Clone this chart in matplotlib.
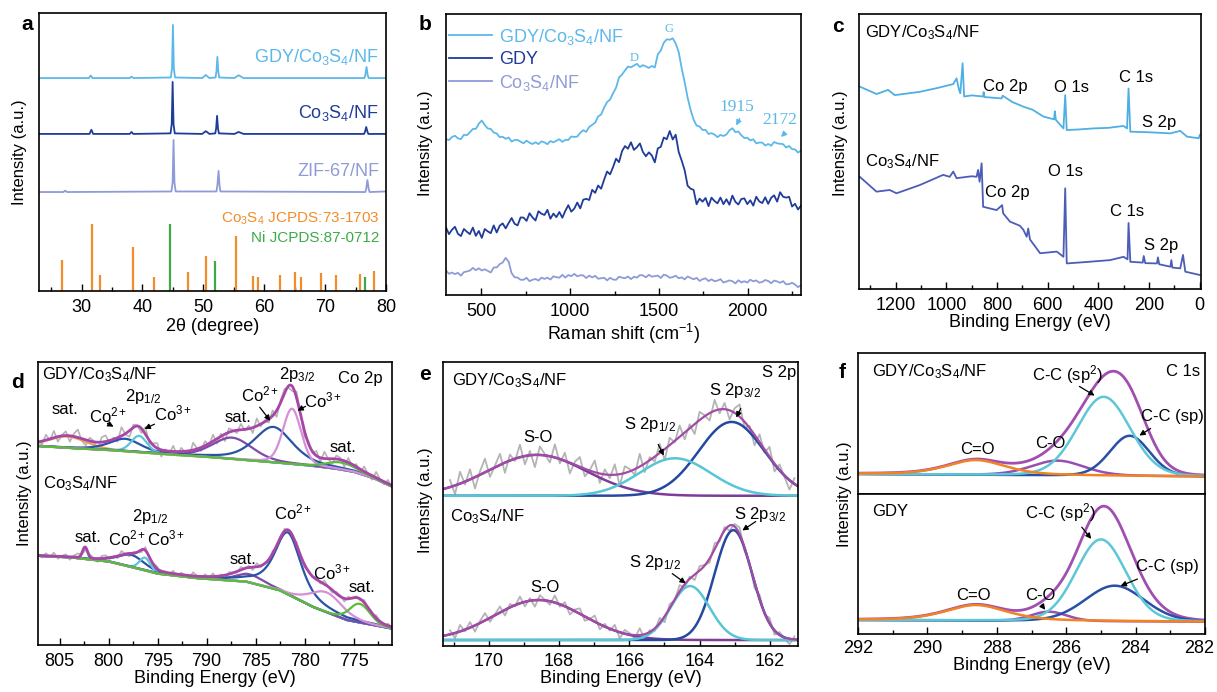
import numpy as np
import matplotlib
matplotlib.use('Agg')
import matplotlib.pyplot as plt
from matplotlib.patches import FancyArrowPatch
from matplotlib.ticker import MultipleLocator
from matplotlib.transforms import ScaledTranslation

W, H = 1217, 692

plt.rcParams['font.family'] = 'Liberation Sans'
plt.rcParams['mathtext.fontset'] = 'custom'
plt.rcParams['mathtext.rm'] = 'Liberation Sans'
plt.rcParams['mathtext.it'] = 'Liberation Sans:italic'
plt.rcParams['mathtext.bf'] = 'Liberation Sans:bold'
plt.rcParams['mathtext.default'] = 'regular'

# ---------------------------------------------------
# colours
# ---------------------------------------------------
LBLUE = '#5DB8EA'
DBLUE = '#1F3C99'
LAV = '#8E9BD8'
ORANGE = '#F28C28'
GREEN = '#3DAA47'
GRAY = '#B4B4B4'
ENV = '#A846A8'
VIOLET = '#7D4BAA'
PINK = '#D58FD8'
FBLUE = '#2854A8'
CYAN = '#5CC5DA'
FGREEN = '#5DBB3A'
TAN = '#E8A456'

# ---------------------------------------------------
# (a) XRD
# ---------------------------------------------------
XRD_GDY_X = [23, 31.2, 31.5, 31.8, 37.9, 38.2, 38.5, 44.65, 44.85, 45.0, 45.15, 45.35, 49.8, 50.4, 51.0,
             52.0, 52.15, 52.3, 52.45, 52.6, 55.1, 55.8, 56.6, 76.45, 76.6, 76.8, 77.0, 77.15, 80]
XRD_GDY_Y = [76.6, 76.6, 77.5, 76.6, 76.6, 77.1, 76.6, 76.8, 80.0, 95.7, 80.0, 76.8, 76.6, 77.7, 76.6,
             76.8, 79.0, 84.2, 79.0, 76.8, 76.6, 77.6, 76.6, 76.6, 77.6, 80.6, 77.6, 76.6, 76.6]
XRD_CO_X = [23, 31.3, 31.6, 31.9, 37.9, 38.2, 38.5, 44.6, 44.8, 44.95, 45.1, 45.3, 49.8, 50.4, 51.0,
            51.95, 52.1, 52.25, 52.4, 52.55, 55.1, 55.8, 56.6, 76.4, 76.55, 76.75, 76.95, 77.1, 80]
XRD_CO_Y = [56.5, 56.5, 58.0, 56.5, 56.5, 57.2, 56.5, 56.7, 60.0, 75.2, 60.0, 56.7, 56.5, 57.5, 56.5,
            56.7, 58.5, 63.0, 58.5, 56.7, 56.5, 57.2, 56.5, 56.5, 57.3, 59.0, 57.3, 56.5, 56.5]
XRD_ZIF_X = [23, 27.0, 27.3, 27.6, 44.75, 44.95, 45.1, 45.25, 45.45, 52.15, 52.3, 52.5, 52.65, 52.8,
             76.6, 76.75, 76.95, 77.15, 77.3, 80]
XRD_ZIF_Y = [35.6, 35.6, 36.1, 35.6, 35.8, 39.0, 54.3, 39.0, 35.8, 35.8, 38.0, 43.2, 38.0, 35.8,
             35.6, 36.8, 39.9, 36.8, 35.6, 35.8]
PDF_CO3S4_POS = [26.8, 31.65, 33.0, 38.4, 41.9, 47.4, 50.5, 55.3, 58.1, 59.0, 62.6, 65.0, 66.0, 69.3, 71.8,
                 75.7, 78.1]
PDF_CO3S4_H = [11.2, 24.1, 5.8, 15.8, 5.0, 6.8, 12.6, 19.8, 5.4, 5.0, 5.8, 6.8, 5.0, 6.6, 5.8, 6.0, 7.2]
PDF_NI_POS = [44.6, 51.9, 76.5]
PDF_NI_H = [24.1, 10.8, 5.0]

# ---------------------------------------------------
# (b) Raman: smooth trace read from the picture + read-off scatter around it
# ---------------------------------------------------
RAMAN_GC_X = [300, 340, 379, 440, 500, 540, 585, 680, 791, 880, 979, 1040, 1091, 1140, 1185, 1240, 1279,
              1320, 1354, 1400, 1429, 1475, 1494, 1520, 1550, 1575, 1597, 1620, 1644, 1691, 1740, 1785,
              1850, 1890, 1916, 1960, 2010, 2104, 2169, 2230, 2291]
RAMAN_GC_Y = [55.2, 56.2, 55.7, 58.0, 61.7, 59.5, 56.9, 55.0, 54.0, 54.3, 55.2, 56.8, 58.7, 61.5, 65.8,
              71.5, 77.7, 80.5, 81.9, 81.6, 81.3, 80.7, 85.4, 89.0, 91.4, 91.0, 89.5, 84.0, 75.3, 62.3,
              59.0, 57.5, 56.3, 57.8, 59.3, 57.0, 55.2, 53.4, 54.2, 52.5, 51.0]
RAMAN_GDY_X = [300, 360, 420, 510, 580, 660, 760, 847, 922, 980, 1035, 1100, 1166, 1205, 1241, 1280, 1316,
               1350, 1391, 1430, 1475, 1500, 1522, 1560, 1597, 1625, 1654, 1710, 1822, 1920, 2010, 2104,
               2197, 2240, 2291]
RAMAN_GDY_Y = [23.1, 22.6, 22.3, 22.0, 23.5, 25.5, 27.5, 29.1, 27.9, 29.8, 31.4, 34.5, 38.5, 42.0, 45.6,
               49.5, 52.8, 53.0, 52.2, 50.5, 48.6, 52.0, 54.0, 58.1, 55.2, 48.0, 40.9, 33.8, 33.2, 33.5,
               33.2, 33.6, 35.6, 33.0, 30.8]
RAMAN_CO_X = [300, 379, 430, 472, 547, 600, 641, 665, 688, 791, 900, 1035, 1130, 1222, 1330, 1429, 1550,
              1729, 1916, 2050, 2179, 2291]
RAMAN_CO_Y = [8.3, 7.1, 8.8, 9.5, 8.3, 10.5, 13.6, 9.0, 5.9, 5.3, 6.2, 7.1, 6.3, 5.6, 6.2, 6.8, 6.6, 5.6,
              4.7, 4.9, 4.7, 3.2]
RAMAN_NOISE_A = [0.9, -1.3, 0.4, 1.6, -0.8, -1.5, 1.1, 0.2, -0.6, 1.8, -1.1, 0.7, -1.7, 1.3, 0.1, -0.9, 1.5,
                 -1.4, 0.6, 1.0, -1.2, 0.3, 1.7, -0.7, -1.6, 0.9, 0.5, -1.0, 1.4, -0.4, -1.8, 1.2, 0.0, -0.5,
                 1.6, -1.3, 0.8, -0.2, 1.1, -1.5, 0.4, 1.9, -0.9, -0.3, 1.3, -1.6, 0.7, 0.2, -1.1, 1.5, -0.6,
                 1.0, -1.4, 0.3, 1.7, -1.0, -0.1, 1.2, -1.7, 0.6, 0.9, -0.8, 1.4, -1.2, 0.1, 1.8, -0.5, -1.3,
                 0.8, 0.4, -1.6, 1.1, -0.2, 1.5, -0.9, 0.3, -1.4, 1.6, -0.7, 0.5, 1.2, -1.1, 0.0, 1.7, -1.5,
                 0.6, -0.4, 1.0, -1.8, 1.3, 0.2, -0.6, 1.4, -1.0, 0.7, -1.3, 1.9, -0.3, -1.2, 0.8, 1.1, -0.9,
                 0.5, -1.5, 1.6, -0.1, -0.8, 1.2, -1.4, 0.4, 0.9, -1.7, 1.3, -0.5, 0.2, 1.5, -1.1, 0.6, -0.7,
                 1.0]
RAMAN_NOISE_B = [0.3, -0.5, 0.2, 0.6, -0.1, -0.4, 0.5, -0.3, 0.1, 0.4, -0.6, 0.2, 0.5, -0.2, -0.5, 0.3, 0.0,
                 0.6, -0.4, 0.1, -0.3, 0.5, -0.6, 0.2, 0.4, -0.1, -0.5, 0.6, 0.0, -0.3, 0.3, -0.4, 0.5, 0.1,
                 -0.6, 0.4, -0.2, 0.2, 0.6, -0.5, 0.1, -0.3, 0.5, -0.1, -0.4, 0.3, 0.6, -0.6, 0.2, 0.0, -0.2,
                 0.4, -0.5, 0.3, 0.5, -0.3, 0.1, -0.6, 0.4, -0.1, 0.2, 0.6, -0.4, -0.2, 0.5, -0.5, 0.3, 0.0,
                 -0.3, 0.6, -0.1, 0.4, -0.6, 0.2, 0.1, -0.4, 0.5, -0.2, 0.3, -0.5, 0.6, -0.3, 0.0, 0.4, -0.6,
                 0.2, -0.1, 0.5, -0.4, 0.3, 0.1, -0.5, 0.6, -0.2, -0.3, 0.4, 0.2, -0.6, 0.5, 0.0, -0.4, 0.3,
                 -0.1, 0.6, -0.5, 0.1, 0.4, -0.3, 0.2, -0.6, 0.5, -0.2, 0.0, 0.3, -0.4, 0.6, -0.1, 0.2, -0.5,
                 0.4]

# ---------------------------------------------------
# (c) XPS survey
# ---------------------------------------------------
SURV_GC_X = [1342, 1276, 1230, 1204, 1105, 1040, 973, 960, 950, 945, 936, 930, 900, 855, 853, 850, 782, 778,
             740, 696, 660, 617, 575, 572, 568, 538, 531, 525, 480, 419, 360, 301, 287, 281, 274, 200, 116,
             77, 50, 4, 0]
SURV_GC_Y = [73.6, 70.9, 72.4, 70.5, 71.7, 73.0, 74.5, 76.6, 72.4, 71.2, 82.1, 70.0, 70.4, 70.0, 71.6, 69.8,
             69.3, 70.3, 68.0, 66.3, 65.2, 62.7, 61.7, 64.6, 61.5, 58.4, 70.5, 57.8, 58.0, 58.4, 58.6, 59.3,
             58.4, 72.9, 57.2, 57.0, 56.6, 57.5, 55.4, 54.8, 56.0]
SURV_CO_X = [1342, 1276, 1224, 1197, 1105, 1013, 987, 973, 960, 900, 881, 875, 869, 861, 855, 802, 780, 776,
             749, 710, 696, 683, 677, 670, 630, 564, 538, 531, 525, 450, 354, 301, 285, 281, 274, 225, 221,
             215, 169, 165, 160, 116, 112, 108, 77, 66, 57, 0]
SURV_CO_Y = [40.8, 35.4, 36.0, 34.8, 37.8, 41.5, 40.8, 42.7, 40.3, 41.0, 40.8, 43.3, 39.0, 45.7, 29.9, 28.7,
             30.5, 27.5, 24.5, 23.0, 21.5, 19.0, 22.0, 18.0, 13.0, 13.6, 11.7, 36.6, 9.3, 9.8, 10.5, 11.7,
             10.8, 24.0, 9.9, 9.6, 12.0, 9.4, 9.3, 11.5, 9.0, 8.1, 10.5, 7.8, 7.5, 12.4, 6.3, 5.1]

# ---------------------------------------------------
# (d) Co 2p fits: background points + peaks (centre, height, fwhm, lorentz fraction)
# ---------------------------------------------------
D_TOP_BG_X = [807.2, 804, 800, 795, 790, 785, 780, 777, 775, 773, 771.1]
D_TOP_BG_Y = [70.3, 69.6, 68.9, 67.6, 66.5, 65.1, 63.6, 62.4, 61.2, 59.0, 56.0]
D_TOP_CENTER = [804.2, 798.3, 796.9, 787.4, 783.2, 781.3, 776.3]
D_TOP_HEIGHT = [4.0, 4.4, 5.8, 7.5, 12.5, 19.5, 2.5]
D_TOP_FWHM = [4.5, 3.8, 1.9, 4.8, 4.6, 2.2, 3.5]
D_TOP_ETA = [0.2, 0.5, 0.2, 0.3, 0.5, 0.2, 0.1]
D_TOP_NOISE = [0.8, -1.2, 1.9, -0.5, 2.4, -1.8, 0.3, 1.5, -2.1, 0.9, 2.8, -0.7, -1.9, 1.2, 0.4, -2.6, 1.7, 2.2,
               -0.9, 0.6, -1.4, 3.1, -0.3, -2.2, 1.0, 0.2, -1.6, 2.5, -1.1, 0.7, 1.8, -2.4, 0.5, -0.8, 2.0,
               -1.5, 1.3, -0.2, -2.0, 2.6, 0.1, -1.3, 1.6, -0.6, 2.3, -1.7, 0.9, -2.5, 1.4, 0.3, -1.0, 2.1,
               -0.4, 1.1, -1.9, 2.7, -0.9, 0.6, -1.2, 1.9, -2.3, 0.8, 1.5, -0.7, -1.6, 2.2, 0.4, -2.0, 1.0,
               -0.5, 1.7, -1.4, 2.4, -0.1, -1.8, 1.2, 0.7, -2.2, 1.6, -0.6, 0.9, -1.1, 1.8, -0.3, -1.5, 2.0,
               0.2, -0.9, 1.3, -0.8]
D_BOT_BG_X = [807.2, 804, 800, 797, 795, 791, 786, 782.6, 779.2, 775.7, 771.1]
D_BOT_BG_Y = [31.5, 31.0, 29.5, 27.0, 25.2, 23.6, 22.4, 19.4, 13.5, 8.8, 5.8]
D_BOT_CENTER = [802.4, 797.7, 796.3, 785.6, 781.7, 777.8, 774.4]
D_BOT_HEIGHT = [3.9, 4.3, 4.5, 2.9, 21.9, 7.0, 6.6]
D_BOT_FWHM = [0.6, 3.2, 1.3, 3.5, 3.2, 4.0, 2.5]
D_BOT_ETA = [0.0, 0.5, 0.2, 0.3, 0.7, 0.2, 0.1]
D_BOT_NOISE = [0.4, -0.7, 0.9, -0.3, 1.2, -0.9, 0.2, 0.8, -1.1, 0.5, 1.3, -0.4, -0.9, 0.6, 0.2, -1.2, 0.9, 1.0,
               -0.5, 0.3, -0.7, 1.4, -0.2, -1.0, 0.5, 0.1, -0.8, 1.2, -0.6, 0.4, 0.9, -1.1, 0.3, -0.4, 1.0,
               -0.8, 0.7, -0.1, -1.0, 1.3, 0.1, -0.7, 0.8, -0.3, 1.1, -0.9, 0.5, -1.2, 0.7, 0.2, -0.5, 1.0,
               -0.2, 0.6, -1.0, 1.3, -0.5, 0.3, -0.6, 1.0, -1.1, 0.4, 0.8, -0.4, -0.8, 1.1, 0.2, -1.0, 0.5,
               -0.3, 0.9, -0.7, 1.2, -0.1, -0.9, 0.6, 0.4, -1.1, 0.8, -0.3, 0.5, -0.6, 0.9, -0.2, -0.8, 1.0,
               0.1, -0.5, 0.7, -0.4]

# ---------------------------------------------------
# (e) S 2p fits
# ---------------------------------------------------
E_TOP_BASE = 52.9
E_TOP_CENTER = [168.63, 164.7, 163.09]
E_TOP_HEIGHT = [14.4, 13.2, 26.0]
E_TOP_FWHM = [3.3, 2.4, 2.2]
E_TOP_NOISE = [2.5, -3.1, 4.2, -1.0, 3.6, -4.0, 1.2, 4.8, -2.5, 0.6, 3.9, -3.6, 2.1, -0.8, 4.4, -2.9, 1.5,
               -4.3, 3.0, 0.4, -2.2, 4.6, -1.6, 2.8, -3.8, 1.0, 3.4, -2.7, 0.2, 4.1, -3.3, 1.8, -1.2, 3.7,
               -4.1, 2.4, 0.8, -2.0, 4.5, -3.0, 1.1, -1.7, 3.2, -3.9, 2.6, -0.5, 4.0, -2.4, 1.4, -3.5, 2.9,
               0.3, -2.6, 3.8, -1.4, 2.2, -3.2, 1.6, 4.3, -2.1, 0.7, -3.7, 2.7, -1.1, 3.5, -2.8, 1.9, -0.6,
               -3.4, 2.0]
E_BOT_BASE = 2.1
E_BOT_CENTER = [168.58, 164.27, 163.04]
E_BOT_HEIGHT = [14.1, 19.0, 38.7]
E_BOT_FWHM = [3.0, 1.3, 1.25]
E_BOT_NOISE = [1.4, -1.8, 2.3, -0.6, 2.0, -2.2, 0.7, 2.6, -1.4, 0.3, 2.1, -2.0, 1.2, -0.4, 2.4, -1.6, 0.9,
               -2.3, 1.7, 0.2, -1.2, 2.5, -0.9, 1.5, -2.1, 0.6, 1.9, -1.5, 0.1, 2.2, -1.8, 1.0, -0.7, 2.0,
               -2.2, 1.3, 0.4, -1.1, 2.4, -1.7, 0.6, -0.9, 1.8, -2.1, 1.4, -0.3, 2.2, -1.3, 0.8, -1.9, 1.6,
               0.2, -1.4, 2.1, -0.8, 1.2, -1.8, 0.9, 2.3, -1.2, 0.4, -2.0, 1.5, -0.6, 1.9, -1.5, 1.0, -0.3,
               -1.9, 1.1]

# ---------------------------------------------------
# (f) C 1s fits
# ---------------------------------------------------
F_TOP_BG_X = [292, 282]
F_TOP_BG_Y = [14.2, 12.4]
F_TOP_CENTER = [288.6, 286.25, 284.92, 284.17]
F_TOP_HEIGHT = [10.5, 10.5, 56.0, 28.5]
F_TOP_FWHM = [2.0, 1.8, 1.8, 1.35]
F_TOP_ETA = [0.5, 0.2, 0.1, 0.1]
F_BOT_BG_X = [292, 282]
F_BOT_BG_Y = [10.0, 8.8]
F_BOT_CENTER = [288.6, 286.5, 285.0, 284.6]
F_BOT_HEIGHT = [11.1, 6.6, 58.4, 25.4]
F_BOT_FWHM = [2.1, 1.2, 1.7, 2.0]
F_BOT_ETA = [0.5, 0.1, 0.1, 0.1]


def peak(x, c, h, w, eta=0.0):
    u = (x - c) / w
    return h * (eta / (1 + 4 * u ** 2) + (1 - eta) * np.exp(-4 * np.log(2) * u ** 2))


def box(x0, y0, x1, y1):
    return [x0 / W, 1 - y1 / H, (x1 - x0) / W, (y1 - y0) / H]


def style(ax, major, minor, labels=True):
    ax.set_yticks([])
    ax.xaxis.set_major_locator(MultipleLocator(major))
    ax.xaxis.set_minor_locator(MultipleLocator(minor))
    ax.tick_params(axis='x', which='major', direction='in', length=5, width=1, labelsize=13, pad=6,
                   labelbottom=labels)
    ax.tick_params(axis='x', which='minor', direction='in', length=3, width=1)
    for s in ax.spines.values():
        s.set_linewidth(1.2)


fig = plt.figure(figsize=(W / 100, H / 100), dpi=100)


def ftext(px, py, s, **kw):
    kw.setdefault('ha', 'center')
    kw.setdefault('va', 'center')
    kw.setdefault('fontsize', 12)
    fig.text(px / W, 1 - py / H, s, **kw)


def farrow(x1, y1, x2, y2, color='k'):
    fig.add_artist(FancyArrowPatch((x1 / W, 1 - y1 / H), (x2 / W, 1 - y2 / H), transform=fig.transFigure,
                                   arrowstyle='-|>', mutation_scale=8, lw=0.9, color=color))


# ---------------- a ----------------
ax = fig.add_axes(box(39, 13, 386, 291))
ax.plot(XRD_GDY_X, XRD_GDY_Y, color=LBLUE, lw=1.3)
ax.plot(XRD_CO_X, XRD_CO_Y, color=DBLUE, lw=1.3)
ax.plot(XRD_ZIF_X, XRD_ZIF_Y, color=LAV, lw=1.3)
ax.vlines(PDF_CO3S4_POS, 0, PDF_CO3S4_H, color=ORANGE, lw=1.6)
ax.vlines(PDF_NI_POS, 0, PDF_NI_H, color=GREEN, lw=1.6)
ax.set_xlim(23, 80)
ax.set_ylim(0, 100)
style(ax, 10, 5)
ax.set_xlabel('2θ (degree)', fontsize=13, labelpad=1)
ftext(379, 57, 'GDY/Co$_3$S$_4$/NF', ha='right', color=LBLUE, fontsize=13)
ftext(379, 113, 'Co$_3$S$_4$/NF', ha='right', color=DBLUE, fontsize=13)
ftext(379, 172, 'ZIF-67/NF', ha='right', color=LAV, fontsize=13)
ftext(379, 219, 'Co$_3$S$_4$ JCPDS:73-1703', ha='right', color=ORANGE, fontsize=11)
ftext(379, 238, 'Ni JCPDS:87-0712', ha='right', color=GREEN, fontsize=11)
ftext(20, 152, 'Intensity (a.u.)', rotation=90)
ftext(27, 25, 'a', fontsize=15, weight='bold')

# ---------------- b ----------------
ax = fig.add_axes(box(446, 14, 801, 295))
xr = np.linspace(300, 2300, len(RAMAN_NOISE_A))
gc = np.interp(xr, RAMAN_GC_X, RAMAN_GC_Y) + np.array(RAMAN_NOISE_B)
gdy = np.interp(xr, RAMAN_GDY_X, RAMAN_GDY_Y) + np.array(RAMAN_NOISE_A)
co = np.interp(xr, RAMAN_CO_X, RAMAN_CO_Y) + np.array(RAMAN_NOISE_B[::-1])
ax.plot(xr, gc, color=LBLUE, lw=1.3, label='GDY/Co$_3$S$_4$/NF')
ax.plot(xr, gdy, color=DBLUE, lw=1.3, label='GDY')
ax.plot(xr, co, color=LAV, lw=1.3, label='Co$_3$S$_4$/NF')
ax.set_xlim(300, 2300)
ax.set_ylim(0, 100)
style(ax, 500, 250)
ax.set_xlabel('Raman shift (cm$^{-1}$)', fontsize=13, labelpad=1)
ax.legend(loc='upper left', bbox_to_anchor=(-0.028, 1.0), frameon=False, fontsize=13, handlelength=2.4,
          handletextpad=0.4, labelspacing=0.25, labelcolor='linecolor', borderaxespad=0.3)
ftext(634, 58, 'D', color=LBLUE, fontsize=9, family='Liberation Serif')
ftext(669, 29, 'G', color=LBLUE, fontsize=9, family='Liberation Serif')
ftext(737, 107, '1915', color=LBLUE, fontsize=12.5, family='Liberation Serif')
ftext(780, 120, '2172', color=LBLUE, fontsize=12.5, family='Liberation Serif')
farrow(741, 116, 735, 128, LBLUE)
farrow(787, 131, 779, 139, LBLUE)
ftext(425, 143, 'Intensity (a.u.)', rotation=90)
ftext(425, 25, 'b', fontsize=15, weight='bold')

# ---------------- c ----------------
ax = fig.add_axes(box(859, 14, 1201, 289))
ax.plot(SURV_GC_X, SURV_GC_Y, color='#4FAFE3', lw=1.3)
ax.plot(SURV_CO_X, SURV_CO_Y, color='#4C5DB8', lw=1.3)
ax.set_xlim(1345, -5)
ax.set_ylim(0, 100)
style(ax, 200, 100)
ax.set_xlabel('Binding Energy (eV)', fontsize=13, labelpad=0)
ftext(865, 33, 'GDY/Co$_3$S$_4$/NF', ha='left')
ftext(1005, 87, 'Co 2p')
ftext(1072, 87, 'O 1s')
ftext(1136, 77, 'C 1s')
ftext(1159, 122, 'S 2p')
ftext(865, 162, 'Co$_3$S$_4$/NF', ha='left')
ftext(1066, 172, 'O 1s')
ftext(1007, 193, 'Co 2p')
ftext(1127, 212, 'C 1s')
ftext(1161, 245, 'S 2p')
ftext(840, 143, 'Intensity (a.u.)', rotation=90)
ftext(838, 27, 'c', fontsize=15, weight='bold')

# ---------------- d ----------------
ax = fig.add_axes(box(38, 362, 392, 645))
xs = np.linspace(807.2, 771.1, 600)
top_colors = [TAN, FBLUE, CYAN, VIOLET, FBLUE, PINK, FGREEN]
bot_colors = [CYAN, FBLUE, CYAN, VIOLET, FBLUE, PINK, FGREEN]
for bgx, bgy, cen, hei, fw, eta, noise, cols in [
        (D_TOP_BG_X, D_TOP_BG_Y, D_TOP_CENTER, D_TOP_HEIGHT, D_TOP_FWHM, D_TOP_ETA, D_TOP_NOISE, top_colors),
        (D_BOT_BG_X, D_BOT_BG_Y, D_BOT_CENTER, D_BOT_HEIGHT, D_BOT_FWHM, D_BOT_ETA, D_BOT_NOISE, bot_colors)]:
    bg = np.interp(xs, bgx[::-1], bgy[::-1])
    comps = [peak(xs, c, h, w, e) for c, h, w, e in zip(cen, hei, fw, eta)]
    env = bg + sum(comps)
    xn = np.linspace(807.2, 771.1, len(noise))
    raw = np.interp(xn, xs[::-1], env[::-1]) + np.array(noise)
    ax.plot(xn, raw, color=GRAY, lw=1.2)
    ax.plot(xs, bg, color=TAN, lw=1.6)
    for comp, col in zip(comps, cols):
        ax.plot(xs, bg + comp, color=col, lw=1.6)
    ax.plot(xs, env, color=ENV, lw=2.0)
ax.set_xlim(807.2, 771.1)
ax.set_ylim(0, 100)
style(ax, 5, 2.5)
ax.set_xlabel('Binding Energy (eV)', fontsize=13, labelpad=0)
ftext(42, 375, 'GDY/Co$_3$S$_4$/NF', ha='left')
ftext(297, 374, '2p$_{3/2}$')
ftext(360, 378, 'Co 2p')
ftext(260, 394, 'Co$^{2+}$')
ftext(323, 400, 'Co$^{3+}$')
ftext(238, 417, 'sat.')
ftext(343, 448, 'sat.')
ftext(65, 410, 'sat.')
ftext(108, 415, 'Co$^{2+}$')
ftext(143, 396, '2p$_{1/2}$')
ftext(173, 413, 'Co$^{3+}$')
farrow(105, 422, 116, 428)
farrow(157, 423, 142, 430)
farrow(258, 405, 272, 423)
farrow(308, 405, 295, 412)
ftext(43, 484, 'Co$_3$S$_4$/NF', ha='left')
ftext(150, 517, '2p$_{1/2}$')
ftext(88, 537, 'sat.')
ftext(147, 538, 'Co$^{2+}$Co$^{3+}$')
ftext(293, 512, 'Co$^{2+}$')
ftext(243, 560, 'sat.')
ftext(332, 572, 'Co$^{3+}$')
ftext(362, 587, 'sat.')
ftext(25, 493, 'Intensity (a.u.)', rotation=90)
ftext(18, 383, 'd', fontsize=15, weight='bold')

# ---------------- e ----------------
ax = fig.add_axes(box(443, 362, 798, 646))
xs = np.linspace(171.3, 161.2, 500)
for base, cen, hei, fw, noise in [(E_TOP_BASE, E_TOP_CENTER, E_TOP_HEIGHT, E_TOP_FWHM, E_TOP_NOISE),
                                  (E_BOT_BASE, E_BOT_CENTER, E_BOT_HEIGHT, E_BOT_FWHM, E_BOT_NOISE)]:
    comps = [peak(xs, c, h, w) for c, h, w in zip(cen, hei, fw)]
    env = base + sum(comps)
    xn = np.linspace(171.1, 161.3, len(noise))
    raw = np.interp(xn, xs[::-1], env[::-1]) + np.array(noise)
    ax.plot(xn, raw, color=GRAY, lw=1.3)
    ax.plot(xs, base + comps[0], color='#7D3C98', lw=1.8)
    ax.plot(xs, base + comps[2], color='#2548A0', lw=1.8)
    ax.plot(xs, base + comps[1], color='#56C6D6', lw=1.8)
    ax.plot(xs, env, color='#A24BA6', lw=1.6)
ax.set_xlim(171.3, 161.2)
ax.set_ylim(0, 100)
style(ax, 2, 1)
ax.tick_params(axis='x', which='major', pad=5)
ax.set_xlabel('Binding Energy (eV)', fontsize=13, labelpad=0)
ftext(452, 381, 'GDY/Co$_3$S$_4$/NF', ha='left')
ftext(796, 373, 'S 2p', ha='right')
ftext(735, 390, 'S 2p$_{3/2}$')
ftext(650, 425, 'S 2p$_{1/2}$')
ftext(538, 438, 'S-O')
ftext(450, 517, 'Co$_3$S$_4$/NF', ha='left')
ftext(760, 515, 'S 2p$_{3/2}$')
ftext(655, 562, 'S 2p$_{1/2}$')
ftext(545, 588, 'S-O')
farrow(742, 406, 735, 420)
farrow(657, 442, 665, 458)
farrow(758, 520, 740, 532)
farrow(670, 572, 688, 585)
ftext(425, 500, 'Intensity (a.u.)', rotation=90)
ftext(425, 375, 'e', fontsize=15, weight='bold')

# ---------------- f ----------------
fcols = ['#F28324', '#9750B0', '#5CC8D6', '#2A4FA6']
xs = np.linspace(292, 282, 500)
axt = fig.add_axes(box(858, 353, 1205, 494))
axb = fig.add_axes(box(858, 494, 1205, 634))
for axx, bgx, bgy, cen, hei, fw, eta in [(axt, F_TOP_BG_X, F_TOP_BG_Y, F_TOP_CENTER, F_TOP_HEIGHT, F_TOP_FWHM, F_TOP_ETA),
                                         (axb, F_BOT_BG_X, F_BOT_BG_Y, F_BOT_CENTER, F_BOT_HEIGHT, F_BOT_FWHM, F_BOT_ETA)]:
    bg = np.interp(xs, bgx[::-1], bgy[::-1])
    comps = [peak(xs, c, h, w, e) for c, h, w, e in zip(cen, hei, fw, eta)]
    env = bg + sum(comps)
    axx.plot(xs, env, color='#A04FB0', lw=2.0)
    for i in [1, 3, 2, 0]:
        axx.plot(xs, bg + comps[i], color=fcols[i], lw=1.8)
    axx.set_xlim(292, 282)
    axx.set_ylim(0, 100)
style(axt, 2, 1, labels=False)
axt.tick_params(axis='x', which='both', length=0)
style(axb, 2, 1)
axb.tick_params(axis='x', which='major', pad=4)
axb.set_xlabel('Bindng Energy (eV)', fontsize=13, labelpad=0)
ftext(872, 372, 'GDY/Co$_3$S$_4$/NF', ha='left')
ftext(1200, 372, 'C 1s', ha='right')
ftext(1067, 375, 'C-C (sp$^2$)')
ftext(1172, 417, 'C-C (sp)')
ftext(1050, 443, 'C-O')
ftext(977, 449, 'C=O')
farrow(1077, 385, 1097, 397)
farrow(1153, 427, 1137, 437)
ftext(872, 512, 'GDY', ha='left')
ftext(1060, 513, 'C-C (sp$^2$)')
ftext(1167, 567, 'C-C (sp)')
ftext(973, 595, 'C=O')
ftext(1040, 595, 'C-O')
farrow(1080, 525, 1093, 541)
farrow(1140, 578, 1118, 587)
farrow(1040, 603, 1047, 612)
ftext(845, 494, 'Intensity (a.u.)', rotation=90)
ftext(842, 373, 'f', fontsize=15, weight='bold')

# keep the last tick label of (f) inside the canvas
fig.canvas.draw()
for lab in axb.get_xticklabels():
    if lab.get_text() == '282':
        lab.set_transform(lab.get_transform() + ScaledTranslation(-4 / 72, 0, fig.dpi_scale_trans))

fig.savefig('out.png', dpi=100)
